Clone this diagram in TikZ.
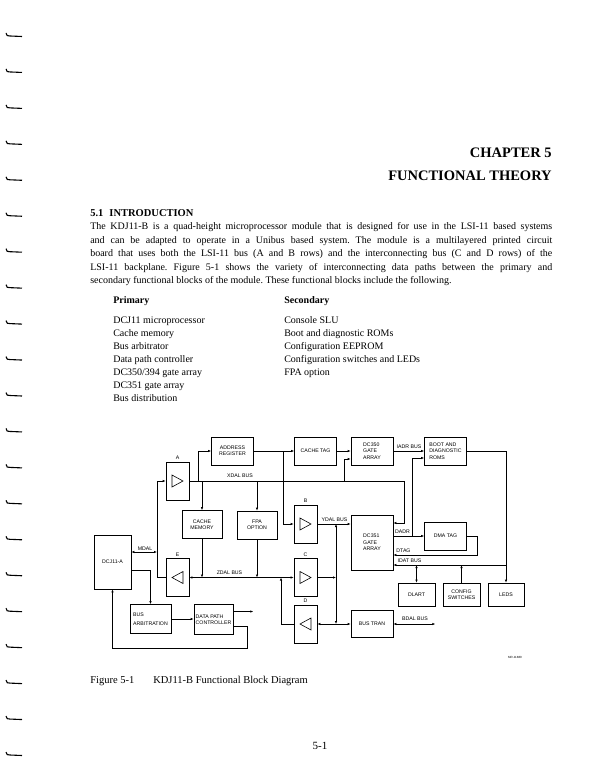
\documentclass[tikz,border=0pt]{standalone}
\usepackage{fontspec}
\setmainfont{Liberation Serif}
\newfontfamily\diagfont{Liberation Sans}
\usetikzlibrary{arrows.meta,positioning}
\frenchspacing

\begin{document}
\begin{tikzpicture}
		[x=1pt,y=-1pt,>={Latex[length=3pt,width=2.4pt]},line width=.6pt,
		blk/.style={draw,minimum width=42pt,minimum height=28pt,inner sep=0pt,align=center,
			font=\diagfont\fontsize{5.2}{6.4}\selectfont},
		buf/.style={draw,minimum width=23pt,minimum height=38pt,inner sep=0pt},
		lbl/.style={inner sep=0pt,font=\diagfont\fontsize{5.2}{6}\selectfont},
		txt/.style={inner sep=0pt,anchor=base west,font=\fontsize{10}{13}\selectfont}]
		\useasboundingbox (0,0) rectangle (604,783);
		
		\foreach \i in {0,...,20}
		\draw[line width=1.1pt] (6,{33+35.95*\i}) .. controls (7,{36+35.95*\i}) .. (10,{36+35.95*\i}) -- (22,{36.5+35.95*\i});
		
		\node[txt,anchor=base east,font=\bfseries\fontsize{14.5}{16}\selectfont] (chap) at (552,158) {CHAPTER 5};
		\node[txt,anchor=base east,font=\bfseries\fontsize{14.5}{16}\selectfont] (theory) at (552,181) {FUNCTIONAL THEORY};
		\node[txt,font=\bfseries\fontsize{10.5}{13}\selectfont] (sec) at (90,216.5) {5.1\hspace{6pt}INTRODUCTION};
		\node[txt,text width=462pt,align=justify,font=\fontsize{10}{13.5}\selectfont] (intro) at (90,229.5)
		{The KDJ11-B is a quad-height microprocessor module that is designed for use in the LSI-11 based systems\linebreak
			and can be adapted to operate in a Unibus based system. The module is a multilayered printed circuit\linebreak
			board that uses both the LSI-11 bus (A and B rows) and the interconnecting bus (C and D rows) of the\linebreak
			LSI-11 backplane. Figure 5-1 shows the variety of interconnecting data paths between the primary and\linebreak
			secondary functional blocks of the module. These functional blocks include the following.};
		\node[txt,font=\bfseries\fontsize{10}{13}\selectfont] (prim) at (113,303) {Primary};
		\node[txt,font=\bfseries\fontsize{10}{13}\selectfont] (secd) at (284,303) {Secondary};
		\node[txt,align=left] (primlist) at (113,401.5) {DCJ11 microprocessor\\Cache memory\\Bus arbitrator\\Data path controller\\DC350/394 gate array\\DC351 gate array\\Bus distribution};
		\node[txt,align=left] (secdlist) at (284,375.5) {Console SLU\\Boot and diagnostic ROMs\\Configuration EEPROM\\Configuration switches and LEDs\\FPA option};
		
		\node[buf] (bufA) at (177.5,481) {};
		\node[buf] (bufB) at (305.5,524) {};
		\node[buf] (bufC) at (305.5,577.5) {};
		\node[buf] (bufD) at (305.5,624) {};
		\node[buf] (bufE) at (177.5,577.5) {};
		\foreach \b in {bufA,bufB,bufC}
		\draw ([shift={(-5.5,-6)}]\b.center) -- ++(0,12) -- ++(11,-6) -- cycle;
		\foreach \b in {bufD,bufE}
		\draw ([shift={(5.5,-6)}]\b.center) -- ++(0,12) -- ++(-11,-6) -- cycle;
		\node[lbl,above=1.5pt of bufA] {A};
		\node[lbl,above=1.5pt of bufB] {B};
		\node[lbl,above=1.5pt of bufC] {C};
		\node[lbl,above=1.5pt of bufD] {D};
		\node[lbl,above=1.5pt of bufE] {E};
		
		\node[blk] (addr) at (232.5,451) {ADDRESS\\REGISTER};
		\node[blk] (ctag) at (315.5,451) {CACHE TAG};
		\node[blk,align=left] (dc350) at (372,451) {DC350\\GATE\\ARRAY};
		\node[blk,align=left] (boot) at (445.5,451) {BOOT AND\\DIAGNOSTIC\\ROMS};
		\node[blk,minimum width=40pt] (cmem) at (202,524.5) {CACHE\\MEMORY};
		\node[blk,minimum width=40pt] (fpa) at (257,525) {FPA\\OPTION};
		\node[blk,align=left,minimum height=55pt] (dc351) at (372,542.5) {DC351\\GATE\\ARRAY};
		\node[blk] (dma) at (445.5,536) {DMA TAG};
		\node[blk,minimum width=37pt,minimum height=23pt] (dlart) at (416.5,594.5) {DLART};
		\node[blk,minimum width=37pt,minimum height=23pt] (config) at (461.5,594.5) {CONFIG\\SWITCHES};
		\node[blk,minimum width=36pt,minimum height=23pt] (leds) at (506,594.5) {LEDS};
		\node[blk,minimum height=27pt] (bustran) at (372,624) {BUS TRAN};
		\node[blk,minimum width=37pt,minimum height=54pt] (dcj) at (112.5,562) {DCJ11-A};
		\node[blk,align=left,minimum width=41pt,minimum height=29pt,font=\diagfont\fontsize{5.2}{8.5}\selectfont] (busarb) at (150.5,619) {BUS\\ARBITRATION};
		\node[blk,align=left,minimum width=39pt,minimum height=30pt] (dpc) at (213.5,619.5) {DATA PATH\\CONTROLLER};
		
		\draw[->] (bufA.east) -- (404,481) -- (404,523) -- (dc351.east |- 0,523);
		\draw[->] (198,481) |- (addr.west);
		\draw[->] (addr.east) -- (ctag.west);
		\draw[->] (283,451) |- (bufB.west);
		\draw[->] (ctag.east) -- (dc350.west);
		\draw[->] (344,481) |- ([yshift=-8pt]dc350.west);
		\draw[->] (cmem.north |- 0,481) -- (cmem.north);
		\draw[->] (fpa.north |- 0,481) -- (fpa.north);
		\draw[->] (cmem.south) -- (cmem.south |- 0,577.5);
		\draw[->] (fpa.south) -- (fpa.south |- 0,577.5);
		\draw[<->] (bufE.east) -- (bufC.west);
		\draw[<->] (dcj.east |- 0,552) -- (157,552);
		\draw[->] (bufE.west) -| (157,481) -- (bufA.west);
		\draw[->] (dcj.east |- 0,570) -| (busarb.north);
		\draw[->] (busarb.east) -- (dpc.west |- busarb.east);
		\draw[->] ([yshift=8pt]dpc.east) -- ++(20,0);
		\draw[->] ([yshift=-7pt]dpc.east) -- (247,626.5) -- (247,648) -| (dcj.south);
		\draw[->] (bufB.east) -- (dc351.west |- bufB);
		\draw[->] (bufC.east) -- (336,577.5);
		\draw[<->] (336,524) -- (336,624);
		\draw[<->] (bufD.east) -- (bustran.west);
		\draw[->] (bufD.west) -| (281,577.5);
		\draw[->] (dc350.east) -- (boot.west);
		\draw[->] (dc351.east |- dma) -- (dma.west);
		\draw[->] (412,536) |- ([yshift=-7pt]boot.west);
		\draw[->] (dma.east) -- ++(10,0) |- (dc351.east |- 0,555);
		\draw[->] (boot.east) -| (leds.north);
		\draw[->] (leds.north |- 0,565) -- (dc351.east |- 0,565);
		\draw[<->] (dlart.north |- 0,565) -- (dlart.north);
		\draw[->] (config.north) -- (config.north |- 0,565);
		\draw[<->] (bustran.east) -- ++(42,0);
		
		\node[lbl] (xdal) at (240,476) {XDAL BUS};
		\node[lbl] (ydal) at (334.5,519.5) {YDAL BUS};
		\node[lbl] (zdal) at (229.5,573) {ZDAL BUS};
		\node[lbl] (mdal) at (145,548.5) {MDAL};
		\node[lbl] (iadr) at (409,447) {IADR BUS};
		\node[lbl] (dadr) at (402.5,532) {DADR};
		\node[lbl] (dtag) at (403.5,551) {DTAG};
		\node[lbl] (idat) at (409.5,561) {IDAT BUS};
		\node[lbl] (bdal) at (415,619) {BDAL BUS};
		\node[lbl,font=\diagfont\fontsize{3}{3}\selectfont] (mr) at (515,657) {MR-11880};
		
		\node[txt,font=\fontsize{10.5}{13}\selectfont] (fig) at (90,683) {Figure 5-1};
		\node[txt,font=\fontsize{10.5}{13}\selectfont] (figcap) at (153,683) {KDJ11-B Functional Block Diagram};
		\node[txt,anchor=base,font=\fontsize{11}{13}\selectfont] (page) at (320,749) {5-1};
\end{tikzpicture}
\end{document}
